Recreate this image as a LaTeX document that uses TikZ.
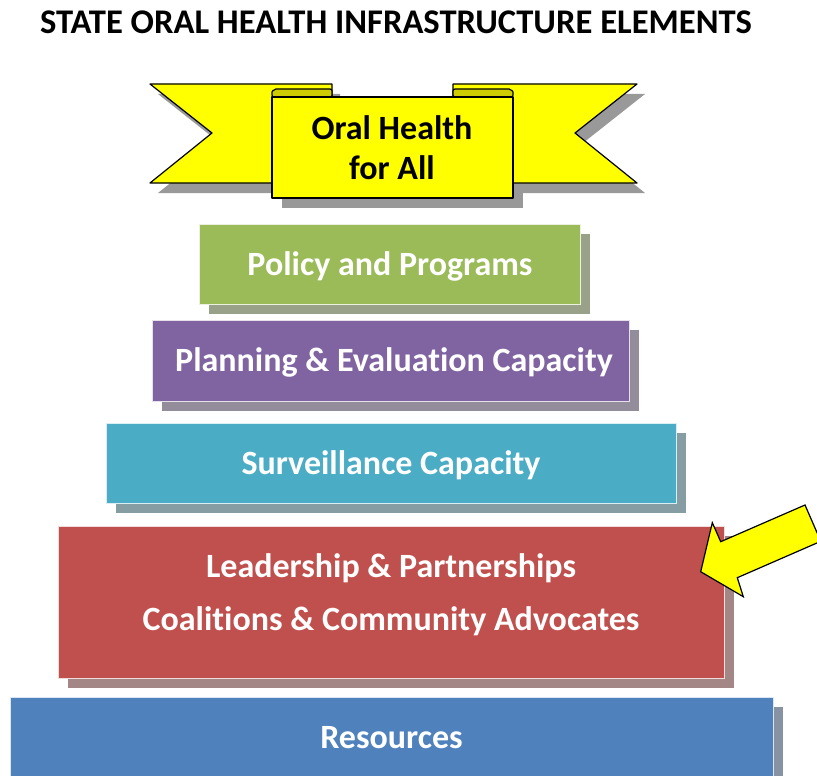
\documentclass[tikz,border=0pt]{standalone}
\usepackage{fontspec}
\setmainfont[Ligatures=CommonOff]{Carlito}
\usetikzlibrary{shadows}
\definecolor{cgreen}{HTML}{9BBB59}
\definecolor{cpurple}{HTML}{8064A2}
\definecolor{caqua}{HTML}{4BACC6}
\definecolor{cred}{HTML}{C0504D}
\definecolor{cblue}{HTML}{4F81BD}
\definecolor{bany}{HTML}{FFFF00}
\definecolor{banfold}{HTML}{CCCC00}
\begin{document}
\begin{tikzpicture}[x=1pt,y=-1pt,
  boxtext/.style={font=\bfseries\fontsize{34}{53}\selectfont, text=white, align=center},
  layer/.style={rectangle, inner sep=0pt, draw=white!80!#1, line width=0.6pt, fill=#1,
    drop shadow={shadow xshift=10pt, shadow yshift=-10pt, fill=#1!45!black, opacity=0.55}},
  banshadow/.style={fill=black!40, draw=none},
  banpart/.style={fill=bany, draw=black, line width=1.2pt, line join=round},
  banfoldpart/.style={fill=banfold, draw=black, line width=1.2pt, line join=round},
  arrowpart/.style={fill=bany, draw=black, line width=1.2pt, line join=miter}
]
\useasboundingbox (0,0) rectangle (817,776);

% title
\node[font=\bfseries\fontsize{34.6}{40}\selectfont, text=black] (title) at (396,22) {STATE ORAL HEALTH INFRASTRUCTURE ELEMENTS};

% banner shadow
\fill[banshadow] (158,94) -- (340,94) -- (340,193) -- (158,193) -- (220,143) -- cycle;
\fill[banshadow] (645,94) -- (463,94) -- (463,193) -- (645,193) -- (583,143) -- cycle;
\fill[banshadow] (282,107) rectangle (523,208);
% banner
\draw[banpart] (150,84) -- (332,84) -- (332,183) -- (150,183) -- (212,133) -- cycle;
\draw[banpart] (637,84) -- (453,84) -- (453,183) -- (637,183) -- (575,133) -- cycle;
\draw[banfoldpart] (272,97) -- (272,92) [rounded corners=2pt] -- (274,89) -- (332,89) -- (332,97) -- cycle;
\draw[banfoldpart] (513,97) -- (513,92) [rounded corners=2pt] -- (511,89) -- (453,89) -- (453,97) -- cycle;
\draw[banpart] (272,97) rectangle (513,198);
\node[font=\bfseries\fontsize{34}{40}\selectfont, text=black, align=center] (banner) at (392,148) {Oral Health\\for All};

% layers
\node[layer=cgreen, minimum width=381pt, minimum height=80pt] (policy) at (389.5,264) {};
\node[boxtext] (policytxt) at (390,266) {Policy and Programs};

\node[layer=cpurple, minimum width=477pt, minimum height=81pt] (planning) at (390.5,360.5) {};
\node[boxtext] (planningtxt) at (394,362) {Planning \& Evaluation Capacity};

\node[layer=caqua, minimum width=570pt, minimum height=80pt] (surv) at (391,463) {};
\node[boxtext] (survtxt) at (391,465) {Surveillance Capacity};

\node[layer=cred, minimum width=666pt, minimum height=152pt] (lead) at (391,602) {};
\node[boxtext] (leadtxt) at (391,595) {Leadership \& Partnerships\\Coalitions \& Community Advocates};

\node[layer=cblue, minimum width=763pt, minimum height=80pt] (res) at (391.5,737) {};
\node[boxtext] (restxt) at (391.5,738) {Resources};

% arrow
\begin{scope}
\clip (0,0) rectangle (817,776);
\draw[arrowpart] (700.7,571.7) -- (712.3,522.7) -- (720.7,541.7) -- (805,505) -- (820.8,541.3) -- (737.3,577.7) -- (743.3,596.7) -- cycle;
\end{scope}
\end{tikzpicture}
\end{document}
